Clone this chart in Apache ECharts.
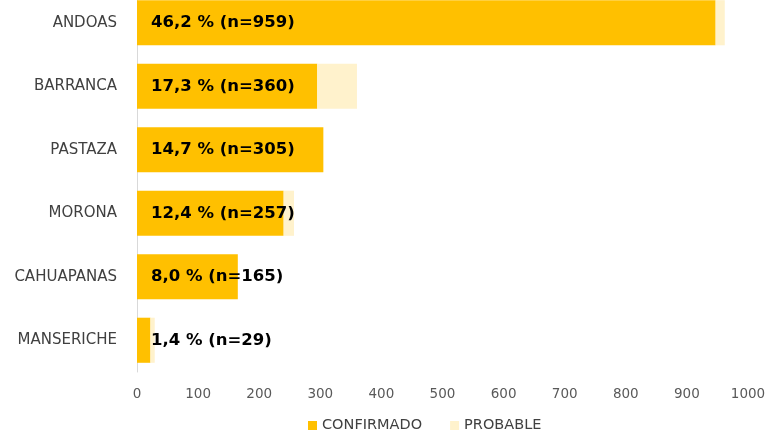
<!DOCTYPE html>
<html><head><meta charset="utf-8">
<script src="https://cdn.jsdelivr.net/npm/echarts@6/dist/echarts.min.js"></script>
<style>html,body{margin:0;padding:0;background:#fff}#c{width:773px;height:431px}</style>
</head><body><div id="c"></div>
<script>
var categories = ['ANDOAS','BARRANCA','PASTAZA','MORONA','CAHUAPANAS','MANSERICHE'];
var confirmado = [947, 295, 305, 240, 165, 22];
var probable = [15, 65, 0, 17, 0, 7];
var barLabels = ['46,2 % (n=959)','17,3 % (n=360)','14,7 % (n=305)','12,4 % (n=257)','8,0 % (n=165)','1,4 % (n=29)'];
var xTicks = [0,100,200,300,400,500,600,700,800,900,1000];
var FONT = '"DejaVu Sans", sans-serif';

var chart = echarts.init(document.getElementById('c'));
chart.setOption({
  animation:false,
  grid:{left:137, width:611, top:-9, height:381, outerBoundsMode:'none', containLabel:false},
  legend:{
    top:413, left:303, itemWidth:9, itemHeight:9, itemGap:28, icon:'rect',
    textStyle:{color:'#404040', fontSize:14.5, fontFamily:FONT},
    data:['CONFIRMADO','PROBABLE']
  },
  xAxis:{
    type:'value', min:xTicks[0], max:xTicks[xTicks.length-1], interval:100,
    axisLine:{show:false}, axisTick:{show:false}, splitLine:{show:false},
    axisLabel:{color:'#595959', fontSize:13.5, fontFamily:FONT, margin:15,
      formatter:function(v){return String(v);}}
  },
  yAxis:{
    type:'category', inverse:true, data:categories,
    axisLine:{show:true, lineStyle:{color:'#d9d9d9', width:1}},
    axisTick:{show:false},
    axisLabel:{color:'#404040', fontSize:15, fontFamily:FONT, margin:20}
  },
  series:[
    {name:'CONFIRMADO', type:'bar', stack:'t', data:confirmado, barCategoryGap:'29%',
     itemStyle:{color:'#FFC000'},
     label:{show:true, position:'insideLeft', distance:14, color:'#000', fontWeight:'bold',
       fontSize:16.5, fontFamily:FONT,
       formatter:function(p){return barLabels[p.dataIndex];}}},
    {name:'PROBABLE', type:'bar', stack:'t', data:probable,
     itemStyle:{color:'#FFF2CC'}}
  ]
});
</script></body></html>
